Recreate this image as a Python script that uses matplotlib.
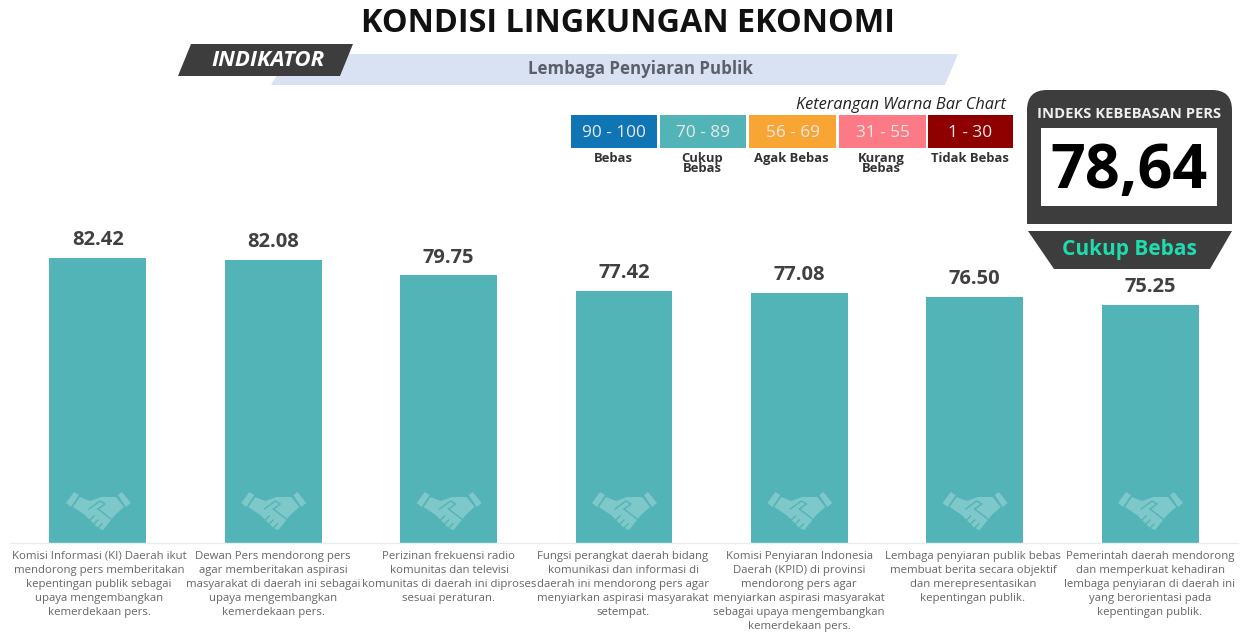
import matplotlib
matplotlib.use('Agg')
import matplotlib.pyplot as plt
from matplotlib.patches import Polygon, Rectangle, FancyBboxPatch
from matplotlib.transforms import Affine2D

#################### Data ####################

values = [82.42, 82.08, 79.75, 77.42, 77.08, 76.50, 75.25]
captions = [
    'Komisi Informasi (KI) Daerah ikut\nmendorong pers memberitakan\nkepentingan publik sebagai\nupaya mengembangkan\nkemerdekaan pers.',
    'Dewan Pers mendorong pers\nagar memberitakan aspirasi\nmasyarakat di daerah ini sebagai\nupaya mengembangkan\nkemerdekaan pers.',
    'Perizinan frekuensi radio\nkomunitas dan televisi\nkomunitas di daerah ini diproses\nsesuai peraturan.',
    'Fungsi perangkat daerah bidang\nkomunikasi dan informasi di\ndaerah ini mendorong pers agar\nmenyiarkan aspirasi masyarakat\nsetempat.',
    'Komisi Penyiaran Indonesia\nDaerah (KPID) di provinsi\nmendorong pers agar\nmenyiarkan aspirasi masyarakat\nsebagai upaya mengembangkan\nkemerdekaan pers.',
    'Lembaga penyiaran publik bebas\nmembuat berita secara objektif\ndan merepresentasikan\nkepentingan publik.',
    'Pemerintah daerah mendorong\ndan memperkuat kehadiran\nlembaga penyiaran di daerah ini\nyang berorientasi pada\nkepentingan publik.',
]
legend_ranges = ['90 - 100', '70 - 89', '56 - 69', '31 - 55', '1 - 30']
legend_names = ['Bebas', 'Cukup\nBebas', 'Agak Bebas', 'Kurang\nBebas', 'Tidak Bebas']
legend_colors = ['#0f75b5', '#52b4b6', '#f9a533', '#fb7a85', '#8f0000']

W, H = 1245, 633
BAR = '#52b4b6'
DARK = '#3d3d3d'
plt.rcParams['font.family'] = ['Open Sans', 'DejaVu Sans']

fig = plt.figure(figsize=(W / 100, H / 100), dpi=100, facecolor='white')

#################### Bars ####################

ax = fig.add_axes([10.3 / W, (H - 543) / H, 1227.4 / W, 343 / H])
ax.patch.set_alpha(0)
xs = list(range(len(values)))
ax.bar(xs, values, width=0.553, color=BAR)
ax.set_xlim(-0.5, 6.5)
ax.set_ylim(38.9, 38.9 + 343 / 6.555)
ax.set_xticks([])
ax.set_yticks([])
for side in ['top', 'left', 'right']:
    ax.spines[side].set_visible(False)
ax.spines['bottom'].set_color('#e8eeee')
ax.spines['bottom'].set_linewidth(1)

for x, v in zip(xs, values):
    ax.annotate(f'{v:.2f}', (x, v), xytext=(0, 5.5), textcoords='offset points',
                ha='center', va='bottom', fontsize=14.5, fontweight='bold',
                color='#404040')

#################### Overlay in pixel coordinates ####################

px = fig.add_axes([0, 0, 1, 1])
px.set_xlim(0, W)
px.set_ylim(H, 0)
px.axis('off')
px.patch.set_alpha(0)

px.text(628, 24, 'KONDISI LINGKUNGAN EKONOMI', ha='center', va='center',
        fontsize=23.3, fontweight='bold', color='#111111')

# header ribbons
px.add_patch(Polygon([(290, 54), (958, 54), (945, 85), (271, 85)], color='#d9e2f3', lw=0))
px.add_patch(Polygon([(191, 44), (353, 44), (340, 76), (178, 76)], color=DARK, lw=0))
px.text(268, 61, 'INDIKATOR', ha='center', va='center', fontsize=16,
        fontweight='bold', style='italic', color='white')
px.text(641, 69, 'Lembaga Penyiaran Publik', ha='center', va='center',
        fontsize=12.2, fontweight='bold', color='#5a5f6b')

# colour legend
px.text(1006, 105, 'Keterangan Warna Bar Chart', ha='right', va='center',
        fontsize=11.8, style='italic', color='#222222')
box_left = [571, 660, 749, 839, 928]
box_right = [657, 746, 836, 926, 1013]
for i in range(5):
    l, r = box_left[i], box_right[i]
    px.add_patch(Rectangle((l, 115), r - l, 33, color=legend_colors[i], lw=0))
    px.text((l + r) / 2, 133, legend_ranges[i], ha='center', va='center',
            fontsize=12.4, color='#e8e8e8')
    px.text((l + r) / 2 - 1, 152, legend_names[i], ha='center', va='top',
            fontsize=9.4, fontweight='bold', color='#333333', linespacing=0.72)

# index panel
px.add_patch(FancyBboxPatch((1037, 100), 185, 130, boxstyle='round,pad=10,rounding_size=20',
                            color=DARK, lw=0))
px.add_patch(Rectangle((1027, 215), 205, 9, color=DARK, lw=0))
px.add_patch(Rectangle((1027, 224), 205, 8, color='white', lw=0))
px.add_patch(Rectangle((1041, 128), 176, 78, color='white', lw=0))
px.text(1129, 114, 'INDEKS KEBEBASAN PERS', ha='center', va='center',
        fontsize=10.6, fontweight='bold', color='#eeeeee')
px.text(1129, 172, '78,64', ha='center', va='center', fontsize=44,
        fontweight='bold', color='black')
px.add_patch(Polygon([(1028, 231), (1232, 231), (1210, 269), (1054, 269)], color=DARK, lw=0))
px.text(1129, 250, 'Cukup Bebas', ha='center', va='center', fontsize=15,
        fontweight='bold', color='#1fdcae')

#################### Handshake icons ####################

ICON = '#7fc8c9'
cuff_l = [(-24, -18), (-32, -7), (-27, -3), (-19, -15)]
cuff_r = [(24, -18), (33, -7), (28, -3), (20, -15)]
hand = [(-18, -13), (-8, -9), (3, -13), (18, -13), (26, -3), (17, 5), (5, 20),
        (0, 18), (-4, 14), (-8, 10), (-13, 5), (-25, -3)]
cuts = [[(-9, -1), (2, -9), (7, -6), (0, -1)], [(0, -1), (13, 9)],
        [(-8, 10), (-4, 6)], [(-4, 14), (0, 10)], [(0, 18), (4, 14)]]
fig.canvas.draw()
for x in xs:
    cx = px.transData.inverted().transform(ax.transData.transform((x, 50)))[0]
    t = Affine2D().translate(cx, 510) + px.transData
    px.add_patch(Polygon(cuff_l, color=ICON, lw=0, transform=t))
    px.add_patch(Polygon(cuff_r, color=ICON, lw=0, transform=t))
    px.add_patch(Polygon(hand, color=ICON, lw=0, transform=t))
    for c in cuts:
        px.plot([p[0] for p in c], [p[1] for p in c], color=BAR, lw=1, transform=t)

#################### Captions ####################

cap_x = [99, 273, 449, 623, 799, 973, 1150]
for x, c in zip(cap_x, captions):
    px.text(x, 551, c, ha='center', va='top', fontsize=8.2, color='#666666',
            linespacing=1.38)

fig.savefig('out.png', dpi=100)
